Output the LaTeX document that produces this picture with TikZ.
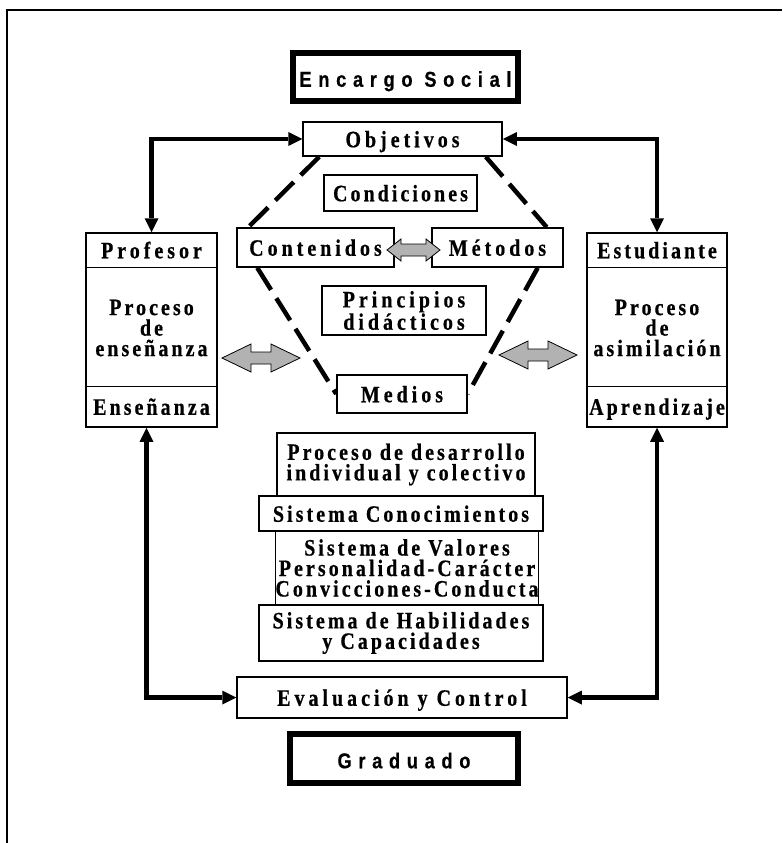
\documentclass[tikz,border=0pt]{standalone}
\usepackage{fontspec}
\setmainfont{Liberation Serif}
\newfontfamily\serifls{Liberation Serif}[LetterSpace=13,FakeStretch=0.85,FakeBold=0.6]
\newfontfamily\sansls{Liberation Sans}[LetterSpace=31,FakeStretch=0.85,FakeBold=0.5]
\usetikzlibrary{arrows.meta,calc}
\definecolor{arrowgray}{RGB}{178,178,178}
\newcommand\tf{\serifls\bfseries\fontsize{23.5}{20.5}\selectfont}
\newcommand\tfw{\tf\addfontfeature{LetterSpace=17}}
\newcommand\sff{\sansls\bfseries\fontsize{21.5}{24}\selectfont}
\begin{document}
\begin{tikzpicture}[x=1pt,y=-1pt,
  box/.style={draw, line width=1.5pt, inner sep=0pt, align=center, font=\tf},
  widebox/.style={box, font=\tfw},
  oneline/.style={text height=17pt, text depth=0.5pt},
  txt/.style={inner sep=0pt, align=center, font=\tf},
  framebox/.style={draw, line width=5pt, inner sep=0pt, font=\sff, text height=20pt, text depth=0.5pt},
  bigarrow/.style={line width=4.5pt, {Triangle[length=14pt,width=14pt,line width=0pt]}-{Triangle[length=14pt,width=14pt,line width=0pt]}},
  dashline/.style={line width=4.5pt, dash pattern=on 26pt off 10pt},
  grayarrow/.style={draw, line width=0.8pt, fill=arrowgray, line join=miter},
]
\useasboundingbox (0,0) rectangle (782,843);
% outer frame
\coordinate (f0) at (7,843);
\coordinate (f1) at (7,10);
\coordinate (f2) at (782,10);
\draw[line width=2pt] (f0) -- (f1) -- (f2);

% top and bottom framed boxes
\node[framebox, minimum width=226pt, minimum height=49pt] (enc) at (405.5,77) {Encargo Social};
\draw[line width=1.2pt] ([xshift=5pt,yshift=5pt]enc.south west) rectangle ([xshift=-5pt,yshift=-5pt]enc.north east);
\node[framebox, minimum width=229pt, minimum height=50pt] (grad) at (404,758.5) {Graduado};
\draw[line width=1.2pt] ([xshift=5pt,yshift=5pt]grad.south west) rectangle ([xshift=-5pt,yshift=-5pt]grad.north east);

% central boxes
\node[widebox, oneline, minimum width=199pt, minimum height=34pt] (obj) at (402.5,139) {Objetivos};
\node[box, oneline, minimum width=153pt, minimum height=36pt] (cond) at (400.5,193) {Condiciones};
\node[widebox, oneline, minimum width=157pt, minimum height=39pt] (cont) at (315.5,247.5) {Contenidos};
\node[widebox, oneline, minimum width=131pt, minimum height=39pt] (met) at (497.5,247.5) {Métodos};
\node[widebox, minimum width=164pt, minimum height=49pt] (prin) at (404,310.5) {Principios\\didácticos};
\node[widebox, oneline, minimum width=130pt, minimum height=38pt] (med) at (402,394) {Medios};

% side boxes
\node[box, minimum width=131pt, minimum height=194pt] (prof) at (151.5,330) {};
\node[box, minimum width=140pt, minimum height=194pt] (est) at (657,330) {};
\coordinate (d1) at (0,267);
\coordinate (d2) at (0,386);
\draw[line width=1pt] (prof.west |- d1) -- (prof.east |- d1);
\draw[line width=1pt] (prof.west |- d2) -- (prof.east |- d2);
\draw[line width=1pt] (est.west |- d1) -- (est.east |- d1);
\draw[line width=1pt] (est.west |- d2) -- (est.east |- d2);
\node[txt, oneline, font=\tfw] (profA) at (151.5,250) {Profesor};
\node[txt] (profB) at (151.5,328) {Proceso\\de\\enseñanza};
\node[txt, oneline] (profC) at (151.5,406.5) {Enseñanza};
\node[txt, oneline] (estA) at (657,250) {Estudiante};
\node[txt] (estB) at (657,328) {Proceso\\de\\asimilación};
\node[txt, oneline] (estC) at (657,406.5) {Aprendizaje};

% lower stack
\node[box, minimum width=258pt, minimum height=63pt] (pdes) at (406,464.5) {Proceso de desarrollo\\individual y colectivo};
\node[box, oneline, minimum width=284pt, minimum height=35pt] (scon) at (401,513.5) {Sistema Conocimientos};
\node[box, minimum width=262pt, minimum height=74pt] (sval) at (407,568) {Sistema de Valores\\Personalidad-Carácter\\Convicciones-Conducta};
\node[box, minimum width=284pt, minimum height=56pt] (shab) at (401,633) {Sistema de Habilidades\\y Capacidades};
\node[widebox, oneline, minimum width=330pt, minimum height=41pt] (eval) at (402,697.5) {Evaluación y Control};

% dashed hexagon
\draw[dashline] ([xshift=17pt]obj.south west) -- ([xshift=12pt]cont.north west);
\draw[dashline] ([xshift=-17pt]obj.south east) -- ([xshift=-17pt]met.north east);
\draw[dashline] ([xshift=21pt]cont.south west) -- (med.west);
\draw[dashline] ([xshift=-26pt]met.south east) -- (med.east);

% thick arrows
\draw[bigarrow] (obj.west) -| (prof.north);
\draw[bigarrow] (obj.east) -| (est.north);
\draw[bigarrow] ([xshift=-5pt]prof.south) |- (eval.west);
\draw[bigarrow] (est.south) |- (eval.east);

% gray double arrows
\draw[grayarrow] (222,358) -- ++(29,-14) -- ++(0,8) -- ++(20,0) -- ++(0,-8) -- ++(29,14) -- ++(-29,14) -- ++(0,-8) -- ++(-20,0) -- ++(0,8) -- cycle;
\draw[grayarrow] (499,355) -- ++(29,-14) -- ++(0,8) -- ++(20,0) -- ++(0,-8) -- ++(29,14) -- ++(-29,14) -- ++(0,-8) -- ++(-20,0) -- ++(0,8) -- cycle;
\draw[grayarrow] (387,250) -- ++(14,-11) -- ++(0,5) -- ++(25,0) -- ++(0,-5) -- ++(14,11) -- ++(-14,11) -- ++(0,-5) -- ++(-25,0) -- ++(0,5) -- cycle;
\end{tikzpicture}
\end{document}
